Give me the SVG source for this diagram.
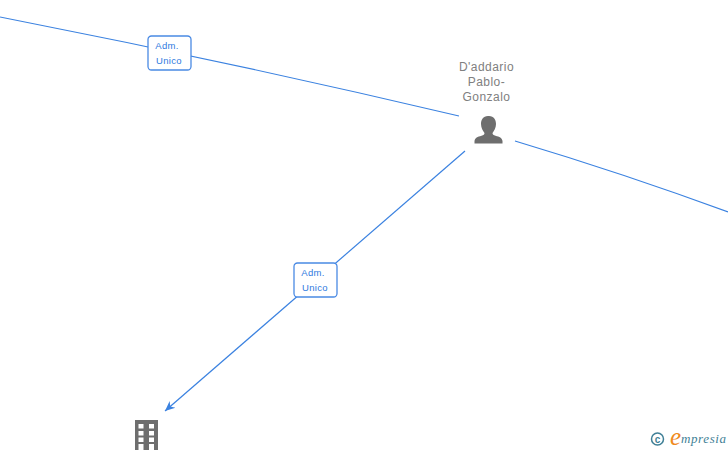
<svg xmlns="http://www.w3.org/2000/svg" width="728" height="450" viewBox="0 0 728 450">
<style>
.edge{fill:none;stroke:#3b82e0;stroke-width:1.2}
.box{fill:#fff;stroke:#4a8ae4;stroke-width:1.3}
.lbl{font:9.500px "Liberation Sans",Arial,sans-serif;fill:#2f7ae0;text-anchor:middle;letter-spacing:.3px}
.name{font:12px "Liberation Sans",Arial,sans-serif;fill:#808080;text-anchor:middle;letter-spacing:.45px}
.icon{fill:#6e6e6e}
</style>
<defs><marker id="arrow" markerUnits="userSpaceOnUse" markerWidth="12" markerHeight="12" refX="10" refY="5" orient="auto"><path d="M0 0.500L10 5L0 9.500L3 5Z" fill="#3b82e0"/></marker></defs>
<rect width="728" height="450" fill="#fff"/>
<g id="connectors">
<path class="edge" d="M0 17Q230 62 459 116"/>
<path class="edge" d="M515 141Q625 174 728 212"/>
<path class="edge" d="M465 151L165 411" marker-end="url(#arrow)"/>
</g>
<g id="label-1"><rect class="box" x="148" y="36" width="43" height="34" rx="3.5"/><text class="lbl" x="167" y="49">Adm.</text><text class="lbl" x="169" y="64">Unico</text></g>
<g id="label-2"><rect class="box" x="294" y="263" width="43" height="34" rx="3.5"/><text class="lbl" x="313" y="276">Adm.</text><text class="lbl" x="315" y="291">Unico</text></g>
<g id="person">
<text class="name" x="486.500" y="71">D'addario</text><text class="name" x="486.500" y="86">Pablo-</text><text class="name" x="486.500" y="101">Gonzalo</text>
<path class="icon" d="M489 116c5 0 7 4 7 8c0 4-2 7-3.500 9c0 1.500 1 2 3 2.700c4 1.200 6.500 2 7 5.300v2.500h-28v-2.500c.5-3.300 3-4.100 7-5.300c2-.7 3-1.200 3-2.700c-1.500-2-3.500-5-3.500-9c0-4 2-8 7-8z"/>
</g>
<g id="company">
<path class="icon" fill-rule="evenodd" d="M135 420h23v30h-23zM138.500 424v4.500h5v-4.500zM149 424v4.500h5v-4.500zM138.500 431v4.500h5v-4.500zM149 431v4.500h5v-4.500zM138.500 437.500v4.500h5v-4.500zM149 437.500v4.500h5v-4.500zM138.500 444v6h5v-6zM149 444v6h5v-6z"/>
</g>
<g id="logo">
<circle cx="657.500" cy="439" r="6" fill="none" stroke="#3f7f96" stroke-width="1.5"/>
<text x="657.500" y="442.500" font-family="Liberation Sans,sans-serif" font-size="10" font-weight="bold" fill="#3f7f96" text-anchor="middle">c</text>
<text x="670" y="445" font-family="Liberation Serif,serif" font-style="italic" font-size="25" fill="#ef8a1d">e</text>
<text x="681" y="443" font-family="Liberation Serif,serif" font-style="italic" font-size="13" fill="#3f7f96" letter-spacing=".6">mpresia</text>
</g>
</svg>
